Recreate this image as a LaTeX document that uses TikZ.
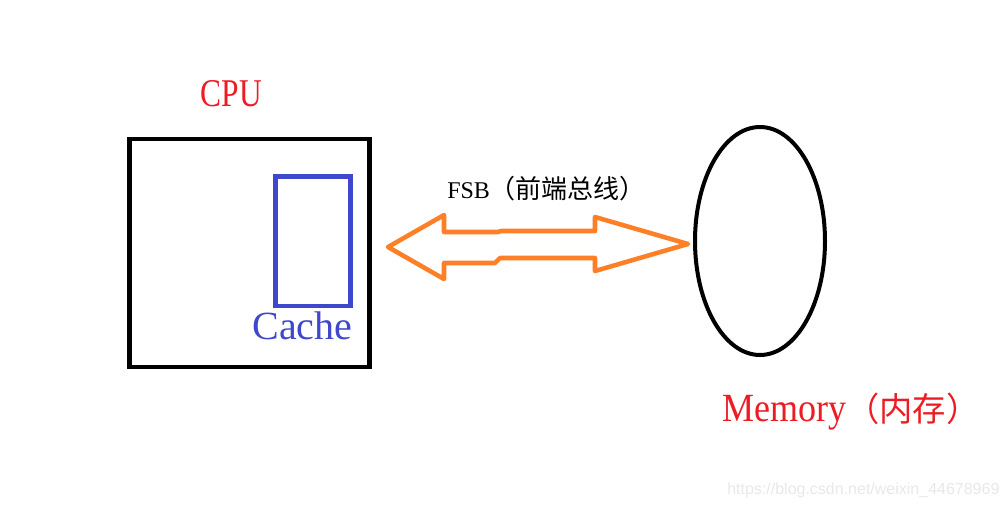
\documentclass[tikz,border=0pt]{standalone}
\usepackage{fontspec}
\setmainfont{Liberation Serif}
\newfontfamily\cjk{Noto Sans CJK SC}
\newfontfamily\narrowfont[FakeStretch=0.9]{Liberation Serif}
\newfontfamily\cpufont[FakeStretch=0.8]{Liberation Serif}
\newfontfamily\markfont{Liberation Sans}
\usetikzlibrary{positioning, shapes.geometric}
\definecolor{paintred}{HTML}{ED1C24}
\definecolor{paintblue}{HTML}{3F48CC}
\definecolor{paintorange}{HTML}{FF7F27}
\definecolor{markgray}{RGB}{232,232,232}

\begin{document}
\begin{tikzpicture}[
        x=0.75pt, y=-0.75pt,
        every node/.style={inner sep=0pt},
        box/.style={draw, rectangle, line width=3.5pt},
        bus/.style={draw=paintorange, line width=3.4pt, line join=round}
    ]

    \tikzset{
    cachebox/.style={draw=paintblue, rectangle, line width=3.2pt},
    mem/.style={draw, ellipse, line width=3pt},
    tag/.style={font=\fontsize{30pt}{30pt}\selectfont}
}

    \useasboundingbox (0,0) rectangle (1007,507);

    \node (cpu) [box, minimum width=180pt, minimum height=171pt] at (249.5,253) {};
    \node (cache) [cachebox, minimum width=56.25pt, minimum height=97.1pt] at (313,241.3) {};
    \node (memory) [mem, minimum width=97.5pt, minimum height=171pt] at (760,241) {};

    \node (cpulabel) [above=22.5pt of cpu, xshift=-13.5pt, text=paintred,
        font=\cpufont\fontsize{29.5pt}{29.5pt}\selectfont] {CPU};
    \node (cachelabel) [below=2.3pt of cache, xshift=-8pt, text=paintblue, tag] {Cache};
    \node (memlabel) [anchor=base west, text=paintred] at (722,421)
        {{\narrowfont\fontsize{30pt}{30pt}\selectfont Memory}{\cjk\fontsize{25pt}{25pt}\selectfont （内存）}};
    \node (fsb) [anchor=base west, font=\fontsize{18pt}{18pt}\selectfont] at (447,198)
        {FSB{\cjk\fontsize{19.5pt}{19.5pt}\selectfont （前端总线）}};

    % front side bus, drawn by hand
    \draw[bus] (388,247) -- (444,215) -- (444,232) -- (498,232) -- (501,231) -- (595,231)
        -- (595,217) -- (688,244) -- (595,271) -- (595,258) -- (500,258) -- (495,263)
        -- (444,263) -- (444,279) -- cycle;

    \node (mark) [anchor=base west, text=markgray,
        font=\markfont\fontsize{12pt}{12pt}\selectfont] at (727,494) {https://blog.csdn.net/weixin\_44678969};
    \end{tikzpicture}
\end{document}
